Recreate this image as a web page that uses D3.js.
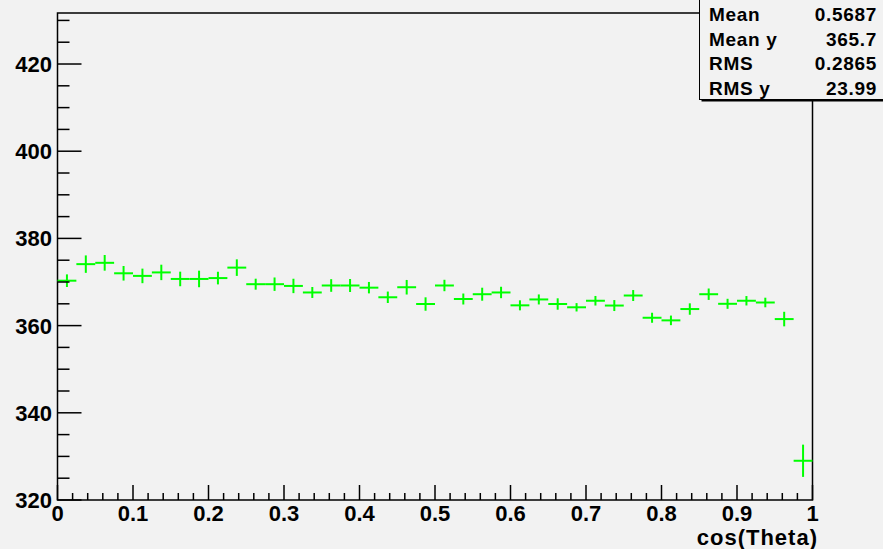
<!DOCTYPE html>
<html>
<head>
<meta charset="utf-8">
<script src="https://cdn.jsdelivr.net/npm/d3@7"></script>
<style>
  html, body { margin: 0; padding: 0; background: #f2f2f2; }
  svg { display: block; }
  text { font-family: "Liberation Sans", Arial, Helvetica, sans-serif; font-weight: bold; fill: #000; }
</style>
</head>
<body>
<script>
// ---- data ----
const binEdges = [0, 1];           // x range of histogram
const nBins = 40;
const binValues = [370.3, 374.1, 374.4, 372.0, 371.4, 372.2, 370.7, 370.7, 370.9, 373.3,
                   369.5, 369.5, 369.1, 367.6, 369.2, 369.2, 368.7, 366.5, 368.8, 364.95,
                   369.2, 366.1, 367.2, 367.6, 364.65, 366.0, 364.95, 364.2, 365.7, 364.6,
                   366.9, 361.8, 361.2, 363.8, 367.2, 365.0, 365.7, 365.3, 361.5, 329.0];
const binErrors = [1.45, 2.0, 1.8, 1.67, 1.67, 1.77, 1.67, 1.9, 1.45, 1.9,
                   1.26, 1.54, 1.65, 1.26, 1.45, 1.49, 1.31, 1.31, 1.67, 1.54,
                   1.31, 1.26, 1.49, 1.31, 1.15, 1.15, 1.31, 0.96, 1.1, 1.26,
                   1.26, 1.15, 1.1, 1.31, 1.31, 1.15, 1.08, 1.1, 1.67, 3.7];
const yDomain = [320, 431.7];
const xMajorTicks = [0, 0.1, 0.2, 0.3, 0.4, 0.5, 0.6, 0.7, 0.8, 0.9, 1];
const xTickLabels = ["0", "0.1", "0.2", "0.3", "0.4", "0.5", "0.6", "0.7", "0.8", "0.9", "1"];
const yMajorTicks = [320, 340, 360, 380, 400, 420];
const xTitle = "cos(Theta)";
const statNames = ["Mean", "Mean y", "RMS", "RMS y"];
const statValues = ["0.5687", "365.7", "0.2865", "23.99"];

// ---- layout ----
const W = 883, H = 549;
const frame = { left: 57.5, right: 812.5, top: 13, bottom: 500 };
const green = "#00ff00";

const svg = d3.select("body").append("svg").attr("width", W).attr("height", H);
svg.append("rect").attr("width", W).attr("height", H).attr("fill", "#f2f2f2");

const x = d3.scaleLinear().domain(binEdges).range([frame.left, frame.right]);
const y = d3.scaleLinear().domain(yDomain).range([frame.bottom, frame.top]);

const binW = (binEdges[1] - binEdges[0]) / nBins;
const bins = binValues.map((v, i) => ({
  lo: binEdges[0] + i * binW,
  hi: binEdges[0] + (i + 1) * binW,
  c: binEdges[0] + (i + 0.5) * binW,
  v: v, e: binErrors[i]
}));

// frame
svg.append("rect")
  .attr("x", frame.left).attr("y", frame.top)
  .attr("width", frame.right - frame.left).attr("height", frame.bottom - frame.top)
  .attr("fill", "#f2f2f2").attr("stroke", "#000").attr("stroke-width", 1.5);

// data markers
const g = svg.append("g").attr("stroke", green).attr("stroke-width", 2).attr("fill", "none");
g.selectAll("line.h").data(bins).join("line").attr("class", "h")
  .attr("x1", d => x(d.lo)).attr("x2", d => x(d.hi))
  .attr("y1", d => y(d.v)).attr("y2", d => y(d.v));
g.selectAll("line.v").data(bins).join("line").attr("class", "v")
  .attr("x1", d => x(d.c)).attr("x2", d => x(d.c))
  .attr("y1", d => y(d.v - d.e)).attr("y2", d => y(d.v + d.e));

// Y axis ticks
const yAxisG = svg.append("g").attr("stroke", "#000").attr("stroke-width", 1.5);
const yMinor = d3.range(yDomain[0], yDomain[1] + 0.001, 5);
yAxisG.selectAll("line").data(yMinor).join("line")
  .attr("x1", frame.left).attr("x2", d => frame.left + (d % 20 === 0 ? 24 : 12))
  .attr("y1", d => y(d)).attr("y2", d => y(d));
svg.append("g").selectAll("text").data(yMajorTicks).join("text")
  .attr("x", 52).attr("y", d => y(d)).attr("dy", "0.36em")
  .attr("text-anchor", "end").attr("font-size", 22).text(d => d);

// X axis ticks
const xAxisG = svg.append("g").attr("stroke", "#000").attr("stroke-width", 1.5);
const xMinor = d3.range(0, 51).map(i => i * 0.02);
xAxisG.selectAll("line").data(xMinor).join("line")
  .attr("x1", d => x(d)).attr("x2", d => x(d))
  .attr("y1", frame.bottom)
  .attr("y2", (d, i) => frame.bottom - (i % 5 === 0 ? 15 : 7));
svg.append("g").selectAll("text").data(xMajorTicks).join("text")
  .attr("x", d => x(d)).attr("y", 521)
  .attr("text-anchor", "middle").attr("font-size", 22)
  .text((d, i) => xTickLabels[i]);

// X title
svg.append("text").attr("x", 818).attr("y", 545)
  .attr("text-anchor", "end").attr("font-size", 22).attr("letter-spacing", 1)
  .text(xTitle);

// stats box
svg.append("rect").attr("x", 701.5).attr("y", 1).attr("width", 200).attr("height", 100.5).attr("fill", "#000");
svg.append("rect").attr("x", 699.5).attr("y", -1).attr("width", 200).attr("height", 100.5)
  .attr("fill", "#f2f2f2").attr("stroke", "#000").attr("stroke-width", 1);
const st = svg.append("g");
st.selectAll("text.n").data(statNames).join("text").attr("class", "n")
  .attr("x", 709).attr("y", (d, i) => 21 + i * 24.5)
  .attr("font-size", 19).attr("letter-spacing", 0.7).text(d => d);
st.selectAll("text.v").data(statValues).join("text").attr("class", "v")
  .attr("x", 877).attr("y", (d, i) => 21 + i * 24.5)
  .attr("text-anchor", "end").attr("font-size", 19).attr("letter-spacing", 0.7).text(d => d);
</script>
</body>
</html>
